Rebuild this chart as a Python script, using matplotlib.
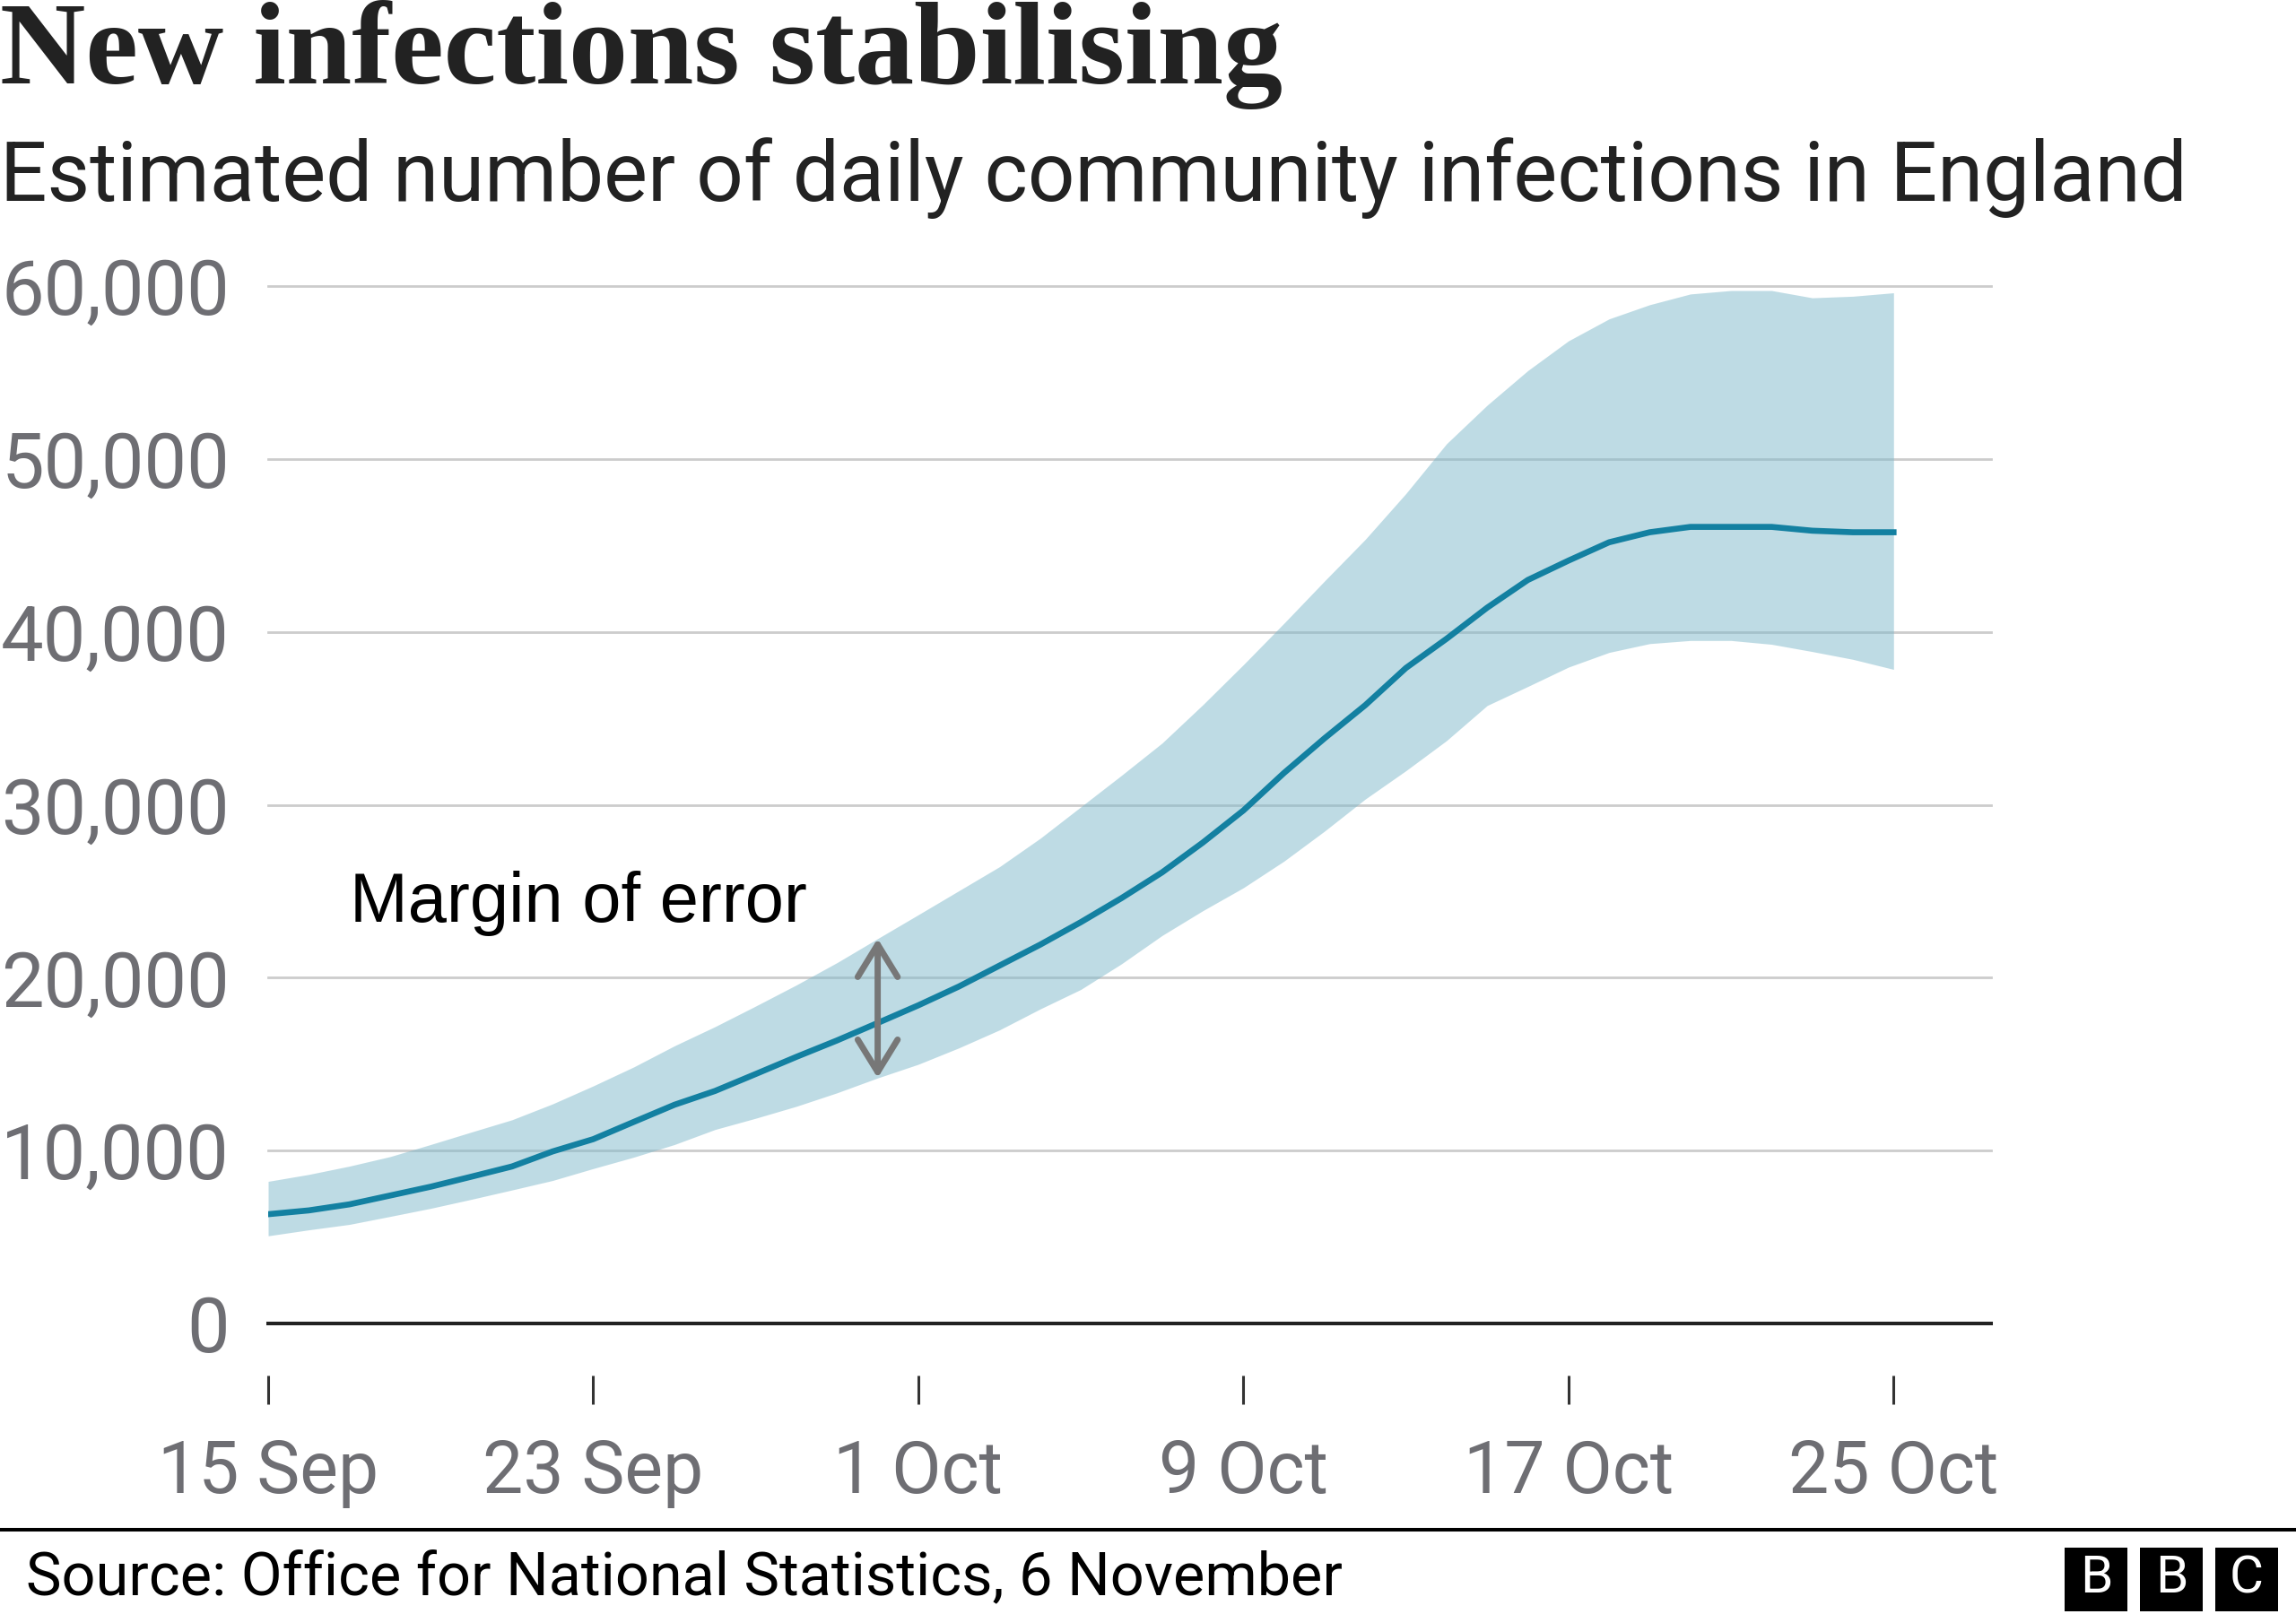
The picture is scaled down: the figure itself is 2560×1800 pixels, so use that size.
import datetime as dt
import matplotlib
matplotlib.use("Agg")
import matplotlib.pyplot as plt
import matplotlib.dates as mdates
from matplotlib.patches import Rectangle

# daily estimates, starting 15 Sep 2020
start = dt.date(2020, 9, 15)
central = [6320, 6540, 6890, 7400, 7910, 8490, 9080, 9950, 10660, 11660,
           12650, 13450, 14430, 15420, 16370, 17380, 18400, 19490, 20700, 21910,
           23210, 24600, 26090, 27810, 29670, 31840, 33850, 35760, 37910, 39600,
           41400, 43000, 44120, 45180, 45760, 46070, 46070, 46070, 45850, 45760,
           45760]
upper = [8220, 8620, 9100, 9650, 10350, 11070, 11780, 12700, 13740, 14840,
         16060, 17170, 18360, 19580, 20870, 22260, 23640, 25030, 26420, 28060,
         29880, 31700, 33570, 35780, 38100, 40500, 42950, 45350, 48000, 50880,
         53110, 55110, 56830, 58100, 58920, 59540, 59740, 59740, 59320, 59410,
         59610]
lower = [5070, 5415, 5730, 6190, 6660, 7180, 7720, 8270, 8960, 9620,
         10350, 11220, 11870, 12560, 13340, 14200, 14990, 15940, 16980, 18190,
         19320, 20800, 22440, 23870, 25200, 26740, 28480, 30330, 31970, 33710,
         35740, 36840, 37960, 38810, 39320, 39500, 39500, 39280, 38860, 38410,
         37830]
dates = [start + dt.timedelta(days=i) for i in range(len(central))]

tick_dates = [dt.date(2020, 9, 15), dt.date(2020, 9, 23), dt.date(2020, 10, 1),
              dt.date(2020, 10, 9), dt.date(2020, 10, 17), dt.date(2020, 10, 25)]
tick_labels = ["15 Sep", "23 Sep", "1 Oct", "9 Oct", "17 Oct", "25 Oct"]
y_ticks = [0, 10000, 20000, 30000, 40000, 50000, 60000]

title = "New infections stabilising"
subtitle = "Estimated number of daily community infections in England"
source = "Source: Office for National Statistics, 6 November"
arrow_day = 15

W, H = 2560, 1800
fig = plt.figure(figsize=(W / 100, H / 100), dpi=100)
ax = fig.add_axes([299 / W, 324 / H, 1921 / W, 1157 / H])

grey = "#6e6e73"
ax.fill_between(dates, lower, upper, color="#7fb9cb", alpha=0.5, lw=0, zorder=2)
ax.plot(dates, central, color="#1380a1", lw=4.8, zorder=3)

ax.set_ylim(0, 60000)
ax.set_xlim(mdates.date2num(start), mdates.date2num(start) + 42.4)

ax.set_yticks(y_ticks)
ax.set_yticklabels([f"{v:,}" for v in y_ticks])
ax.grid(axis="y", color="#cccccc", lw=2, zorder=1)
for gl in ax.get_ygridlines():
    gl.set_clip_on(False)
ax.axhline(0, color="#222222", lw=2.9, zorder=4, clip_on=False)
ax.set_axisbelow(True)

ax.set_xticks(tick_dates)
ax.set_xticklabels(tick_labels)
for s in ax.spines.values():
    s.set_visible(False)
ax.spines["bottom"].set_position(("outward", 41.8))

ax.tick_params(axis="y", length=0, pad=31, labelsize=61, labelcolor=grey)
ax.tick_params(axis="x", length=23, width=2.2, color="#333333", direction="out",
               pad=27, labelsize=58, labelcolor=grey)
for lab in ax.get_xticklabels() + ax.get_yticklabels():
    lab.set_fontfamily("Roboto")

# margin of error annotation
ax.annotate("", xy=(dates[arrow_day], upper[arrow_day]),
            xytext=(dates[arrow_day], lower[arrow_day]),
            arrowprops=dict(arrowstyle="<->,head_length=26,head_width=16",
                            mutation_scale=1, color="#777777", lw=5,
                            shrinkA=0, shrinkB=0, capstyle="round",
                            joinstyle="round"), zorder=5)
ax.text(dates[2], 23240, "Margin of error", fontsize=56,
        family="Liberation Sans", color="black", va="baseline", ha="left")

# titles
fig.text(0, 1 - 93 / H, title, fontsize=95, fontweight="bold",
         family="Liberation Serif", color="#222222", va="baseline")
fig.text(0, 1 - 224 / H, subtitle, fontsize=66.5, family="Roboto",
         color="#222222", va="baseline")

# footer
fig.add_artist(plt.Line2D([0, 1], [1 - 1706 / H, 1 - 1706 / H], color="black",
                          lw=2.9, transform=fig.transFigure))
fig.text(29 / W, 1 - 1779 / H, source, fontsize=48, family="Roboto",
         color="black", va="baseline")
for i, letter in enumerate("BBC"):
    x0 = 2302 + i * 84
    fig.add_artist(Rectangle((x0 / W, 1 - 1797 / H), 70 / W, 71 / H,
                             transform=fig.transFigure, color="black", lw=0))
    fig.text((x0 + 35) / W, 1 - 1761 / H, letter, fontsize=42,
             family="Roboto", color="white", ha="center", va="center")

fig.savefig("out.png", dpi=100, facecolor="white")
